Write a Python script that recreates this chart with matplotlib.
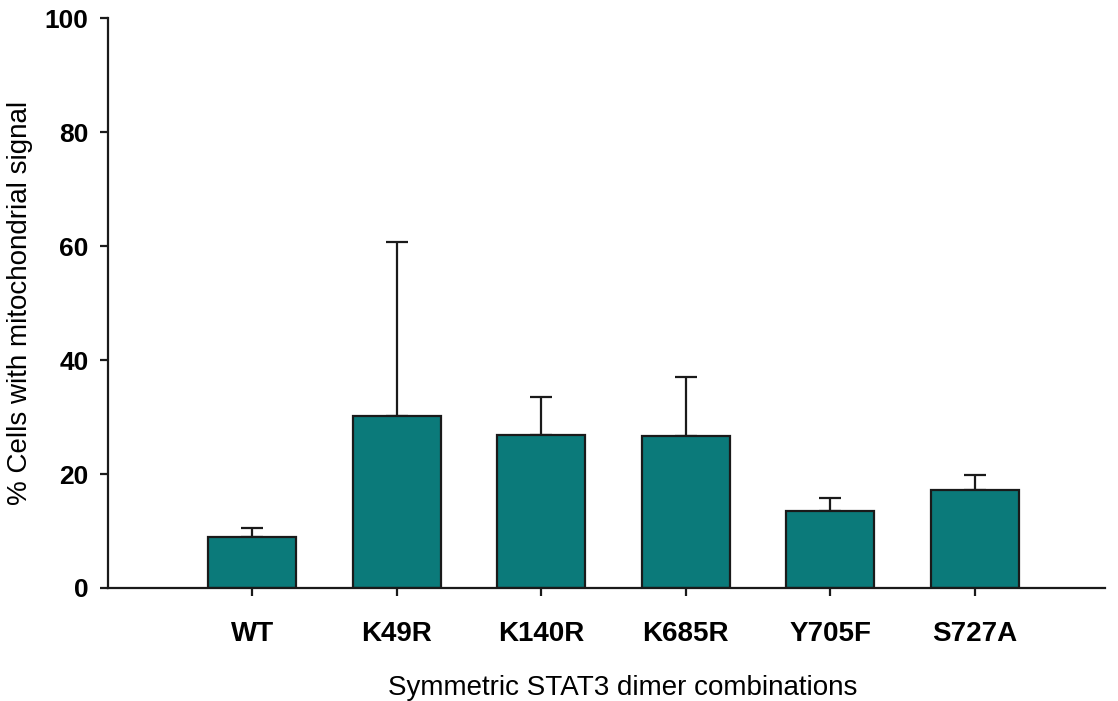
import matplotlib
matplotlib.use("Agg")
import matplotlib.pyplot as plt
import numpy as np

# mean % of cells with mitochondrial signal and upper error per construct
labels = ["WT", "K49R", "K140R", "K685R", "Y705F", "S727A"]
means = [9.0, 30.2, 26.8, 26.7, 13.5, 17.2]
errors = [1.5, 30.5, 6.7, 10.3, 2.3, 2.6]

plt.rcParams["font.family"] = ["Liberation Sans", "DejaVu Sans"]

fig = plt.figure(figsize=(11.18, 7.01), dpi=100)
ax = fig.add_axes([0.0966, 0.1612, 0.8914, 0.8131])

x = np.arange(len(labels))
ax.bar(x, means, width=0.61, color="#0b7a7a", edgecolor="#1a1a1a",
	linewidth=1.6, zorder=2)
ax.errorbar(x, means, yerr=[np.zeros(len(errors)), errors], fmt="none",
	ecolor="#1a1a1a", elinewidth=1.6, capsize=8, capthick=1.6, zorder=1)

ax.set_xlim(-1.0, 5.9)
ax.set_ylim(0, 100)
ax.set_yticks(np.arange(0, 101, 20))
ax.set_xticks(x)
ax.set_xticklabels(labels, fontsize=20, fontweight="bold")
for t in ax.get_yticklabels():
	t.set_fontsize(19)
	t.set_fontweight("bold")

for side in ["top", "right"]:
	ax.spines[side].set_visible(False)
for side in ["left", "bottom"]:
	ax.spines[side].set_linewidth(1.6)
	ax.spines[side].set_color("#1a1a1a")
ax.tick_params(axis="both", direction="out", length=6, width=1.6,
	color="#1a1a1a")
ax.tick_params(axis="x", pad=17.5)
ax.tick_params(axis="y", pad=8)

ax.set_ylabel("% Cells with mitochondrial signal", fontsize=20)
ax.yaxis.set_label_coords(-0.075, 0.5)
ax.set_xlabel("Symmetric STAT3 dimer combinations", fontsize=20)
ax.xaxis.set_label_coords(0.5165, -0.153)

fig.savefig("out.png", dpi=100)
